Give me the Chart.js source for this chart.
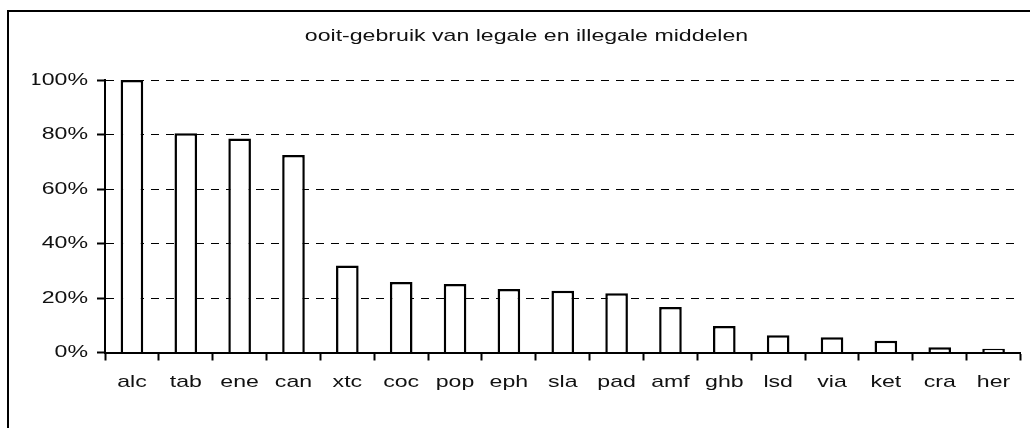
<!DOCTYPE html>
<html>
<head>
<meta charset="utf-8">
<title>ooit-gebruik</title>
<script src="https://cdn.jsdelivr.net/npm/chart.js@4.4.0/dist/chart.umd.min.js"></script>
<style>
    html, body {
        margin: 0;
        padding: 0;
        background: #fff;
        overflow: hidden;
    }
    #wrap {
        position: relative;
        width: 1030px;
        height: 428px;
        overflow: hidden;
    }
    /* frame of the original chart object, cut off right and bottom */
    #frame {
        position: absolute;
        left: 7px;
        top: 10px;
        width: 2000px;
        height: 2000px;
        border-top: 2px solid #000;
        border-left: 2px solid #000;
    }
    #chart {
        position: absolute;
        left: 0;
        top: 0;
    }
</style>
</head>
<body>
<div id="wrap">
    <div id="frame"></div>
    <canvas id="chart" width="1030" height="428"></canvas>
</div>
<script>
// Data
const titel = "ooit-gebruik van legale en illegale middelen";
const middelen = ["alc", "tab", "ene", "can", "xtc", "coc", "pop", "eph", "sla", "pad", "amf", "ghb", "lsd", "via", "ket", "cra", "her"];
const ooitGebruik = [100, 80.5, 78.5, 72.5, 31.9, 25.9, 25.1, 23.3, 22.7, 21.7, 16.7, 9.7, 6.3, 5.6, 4.3, 1.9, 1.4];
const yTicks = [0, 20, 40, 60, 80, 100];

// Text in the original is drawn wide, stretch it horizontally
const textStretch = 1.36;
const cv = document.getElementById("chart");
const ctx = cv.getContext("2d");
const fillTextRaw = ctx.fillText;
ctx.fillText = function (text, x, y) {
    this.save();
    this.translate(x, y);
    this.scale(textStretch, 1);
    fillTextRaw.call(this, text, 0, 0);
    this.restore();
};

Chart.defaults.font.family = "'Liberation Sans', Arial, sans-serif";
Chart.defaults.font.size = 17;
Chart.defaults.color = "#111";

const grafiek = new Chart(ctx, {
    type: 'bar',
    data: {
        labels: middelen,
        datasets: [{
            label: titel,
            data: ooitGebruik,
            backgroundColor: '#fff',
            borderColor: '#000',
            borderWidth: 2.5,
            barPercentage: 0.42,
            categoryPercentage: 1
        }]
    },
    options: {
        responsive: false,
        animation: false,
        layout: {
            // left padding shifts the title centre like in the original
            padding: { left: 32.5, right: 9.5, top: 0, bottom: 0 }
        },
        plugins: {
            legend: { display: false },
            tooltip: { enabled: false },
            title: {
                display: true,
                text: titel,
                color: '#111',
                font: { size: 17, weight: 'normal' },
                padding: { top: 26, bottom: 33.6 }
            }
        },
        scales: {
            x: {
                afterFit: function (scale) { scale.height = 75.5; },
                grid: {
                    drawOnChartArea: false,
                    drawTicks: true,
                    tickLength: 8,
                    tickWidth: 2,
                    tickColor: '#000',
                    offset: true
                },
                border: { color: '#000', width: 2, z: 1 },
                ticks: {
                    padding: 12,
                    maxRotation: 0,
                    autoSkip: false,
                    color: '#111'
                }
            },
            y: {
                min: 0,
                max: 100,
                afterFit: function (scale) { scale.width = 72.5; },
                afterBuildTicks: function (scale) {
                    scale.ticks = yTicks.map(function (v) { return { value: v }; });
                },
                grid: {
                    color: '#000',
                    lineWidth: 1,
                    tickLength: 8,
                    tickWidth: 2,
                    tickColor: '#000',
                    tickBorderDash: []
                },
                border: { color: '#000', width: 2, dash: [8, 7], z: 1 },
                ticks: {
                    padding: 9,
                    color: '#111',
                    callback: function (v) { return v + '%'; }
                }
            }
        }
    }
});
</script>
</body>
</html>
